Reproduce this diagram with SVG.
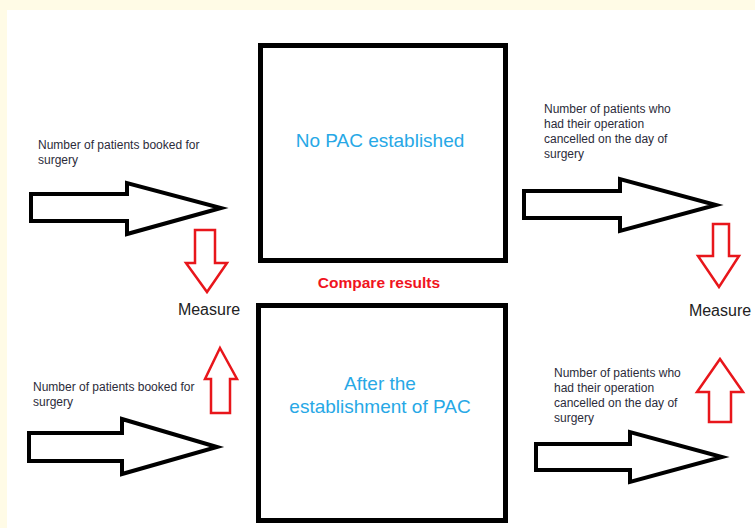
<svg xmlns="http://www.w3.org/2000/svg" width="755" height="528" viewBox="0 0 755 528">
<style>
.bg{fill:#fffbe6}
.box{fill:#fff;stroke:#000;stroke-width:5}
.bar{fill:#fff;stroke:#000;stroke-width:4;stroke-linejoin:miter}
.red{fill:#fff;stroke:#e8161b;stroke-width:2.5;stroke-linejoin:miter}
.lbl{font-family:"Liberation Sans",Arial,sans-serif;font-size:12px;fill:#2b2b3a}
.big{font-family:"Liberation Sans",Arial,sans-serif;font-size:19px;fill:#27a8e6;text-anchor:middle}
.cmp{font-family:"Liberation Sans",Arial,sans-serif;font-size:15.5px;font-weight:bold;fill:#f0141e;text-anchor:middle}
.meas{font-family:"Liberation Sans",Arial,sans-serif;font-size:16px;fill:#222;text-anchor:middle}
</style>
<rect x="0" y="0" width="755" height="528" fill="#fff"/>
<rect class="bg" x="0" y="0" width="755" height="10"/>
<rect class="bg" x="0" y="0" width="7" height="528"/>

<g id="box-no-pac">
<rect class="box" x="260.5" y="45.5" width="245" height="215"/>
<text class="big" x="380" y="147">No PAC established</text>
</g>
<g id="box-after-pac">
<rect class="box" x="258.5" y="305.5" width="247" height="215"/>
<text class="big" x="380" y="390">After the</text>
<text class="big" x="380" y="413">establishment of PAC</text>
</g>
<g id="compare">
<text class="cmp" x="379" y="288">Compare results</text>
</g>
<g id="measure-left">
<text class="meas" x="209" y="315">Measure</text>
</g>
<g id="measure-right">
<text class="meas" x="720" y="316">Measure</text>
</g>
<g id="label-left-top">
<text class="lbl" x="38" y="149">Number of patients booked for</text>
<text class="lbl" x="38" y="164">surgery</text>
</g>
<g id="label-left-bottom">
<text class="lbl" x="33" y="391">Number of patients booked for</text>
<text class="lbl" x="33" y="406">surgery</text>
</g>
<g id="label-right-top">
<text class="lbl" x="544" y="113">Number of patients who</text>
<text class="lbl" x="544" y="128">had their operation</text>
<text class="lbl" x="544" y="143">cancelled on the day of</text>
<text class="lbl" x="544" y="158">surgery</text>
</g>
<g id="label-right-bottom">
<text class="lbl" x="554" y="377">Number of patients who</text>
<text class="lbl" x="554" y="392">had their operation</text>
<text class="lbl" x="554" y="407">cancelled on the day of</text>
<text class="lbl" x="554" y="422">surgery</text>
</g>

<g id="connectors">
<polygon class="bar" points="31,194 127,194 127,183 221,208 127,234 127,221 31,221"/>
<polygon class="bar" points="29,433 122,433 122,419 217,447 122,474 122,461 29,461"/>
<polygon class="bar" points="524,191 620,191 620,179 716,205 620,231 620,218 524,218"/>
<polygon class="bar" points="536,444 630,444 630,432 722,457 630,482 630,470 536,470"/>
<polygon class="red" points="195,230 215,230 215,263 227,263 207,292 186,263 195,263"/>
<polygon class="red" points="220,348 237,379 230,379 230,413 211,413 211,379 205,379"/>
<polygon class="red" points="713,224 729,224 729,256 739,256 719,287 698,256 713,256"/>
<polygon class="red" points="720,359 743,392 731,392 731,422 709,422 709,392 697,392"/>
</g>
</svg>
